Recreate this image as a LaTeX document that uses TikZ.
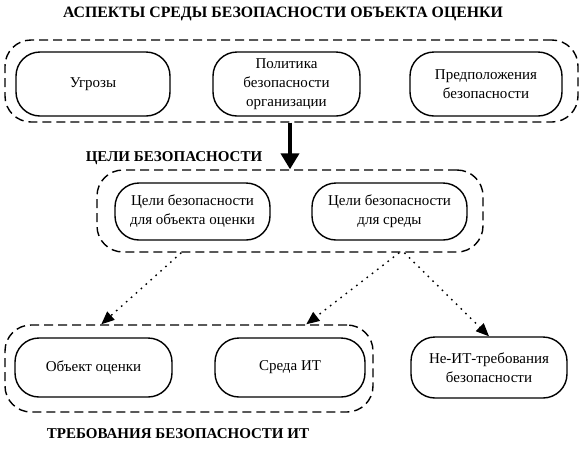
\documentclass[tikz,border=0pt]{standalone}
\usepackage{fontspec}
\setmainfont{Liberation Serif}
\usetikzlibrary{arrows.meta}

\tikzset{
  box/.style={draw,line width=1.4pt,rounded corners=24pt,align=center,inner sep=0pt},
  group/.style={draw,line width=1.4pt,dash pattern=on 9pt off 5pt,rounded corners=26pt,inner sep=0pt},
  title/.style={font=\bfseries\fontsize{15}{18}\selectfont},
  dotarrow/.style={line width=1.4pt,dash pattern=on 1.6pt off 5pt,-{Triangle[width=11pt,length=13pt]}},
}

\begin{document}
\begin{tikzpicture}[x=1pt,y=-1pt,font=\fontsize{15}{19}\selectfont]
    \useasboundingbox (0,0) rectangle (582,448);

    % groups
    \node[group,minimum width=573,minimum height=82](g1) at(291.5,81){};
    \node[group,minimum width=386,minimum height=82](g2) at(290,211){};
    \node[group,minimum width=368,minimum height=87](g3) at(189,368.5){};

    % titles
    \node[title,font=\bfseries\fontsize{15.8}{18}\selectfont](t1) at(283,14){АСПЕКТЫ СРЕДЫ БЕЗОПАСНОСТИ ОБЪЕКТА ОЦЕНКИ};
    \node[title](t2) at(174,158){ЦЕЛИ БЕЗОПАСНОСТИ};
    \node[title](t3) at(178,434){ТРЕБОВАНИЯ БЕЗОПАСНОСТИ ИТ};

    % aspects
    \node[box,minimum width=154,minimum height=64](ugroz) at(93,84){Угрозы};
    \node[box,minimum width=147,minimum height=64](polit) at(286.5,84){Политика\\безопасности\\организации};
    \node[box,minimum width=152,minimum height=64](predp) at(486,84){Предположения\\безопасности};

    % objectives
    \node[box,minimum width=155,minimum height=57](celo) at(192.5,211.5){Цели безопасности\\для объекта оценки};
    \node[box,minimum width=155,minimum height=57](celsr) at(389.5,211.5){Цели безопасности\\для среды};

    % requirements
    \node[box,minimum width=157,minimum height=59](obj) at(93.5,367.5){Объект оценки};
    \node[box,minimum width=150,minimum height=59](sreda) at(290,367.5){Среда ИТ};
    \node[box,minimum width=156,minimum height=61](neit) at(489,367.5){Не-ИТ-требования\\безопасности};

    % arrows
    \draw[line width=4pt,-{Triangle[width=18pt,length=16pt]}](g1.south -| g2.north)--(g2.north);
    \draw[dotarrow]([xshift=85pt]g2.south west)--([xshift=97pt]g3.north west);
    \draw[dotarrow]([xshift=303pt]g2.south west)--([xshift=302pt]g3.north west);
    \draw[dotarrow]([xshift=308pt]g2.south west)--(neit.north);
\end{tikzpicture}
\end{document}
